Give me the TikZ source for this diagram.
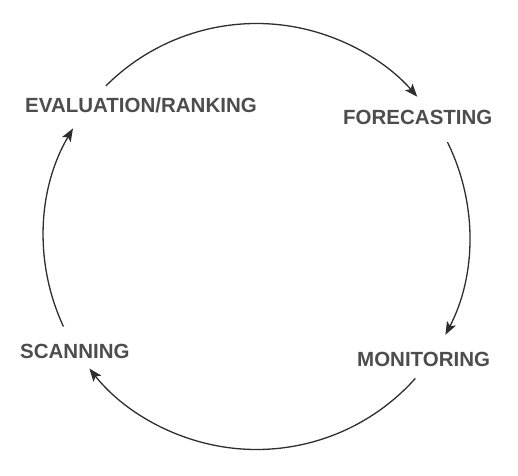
\documentclass[tikz,border=0pt]{standalone}
\usepackage{fontspec}
\setmainfont{Liberation Sans}
\usetikzlibrary{arrows.meta}
\definecolor{linec}{HTML}{2E2E2E}
\definecolor{textc}{HTML}{4D4D4D}
\tikzset{
  cyc/.style={draw=linec, line width=1.3pt, -{Stealth[length=13pt,width=10pt,inset=3pt]}},
  lbl/.style={anchor=base west, inner sep=0pt, text=textc, font=\fontsize{20.5pt}{24pt}\selectfont\bfseries}
}
\begin{document}
\begin{tikzpicture}[x=1pt,y=1pt]
\useasboundingbox (0,0) rectangle (518,475);
\coordinate (c) at (256.5,238.5);
\node[lbl] (eval) at (25,362.5) {EVALUATION/RANKING};
\node[lbl] (fore) at (343,351) {FORECASTING};
\node[lbl] (moni) at (357,109) {MONITORING};
\node[lbl] (scan) at (20,117) {SCANNING};
\path (c) ++(135:213) coordinate (s1);
\path (c) ++(26.3:213) coordinate (s2);
\path (c) ++(-41.8:213) coordinate (s3);
\path (c) ++(205:213) coordinate (s4);
\draw[cyc] (s1) arc[start angle=135, end angle=41, radius=213];
\draw[cyc] (s2) arc[start angle=26.3, end angle=-27.5, radius=213];
\draw[cyc] (s3) arc[start angle=-41.8, end angle=-141.7, radius=213];
\draw[cyc] (s4) arc[start angle=205, end angle=149.5, radius=213];
\end{tikzpicture}
\end{document}
